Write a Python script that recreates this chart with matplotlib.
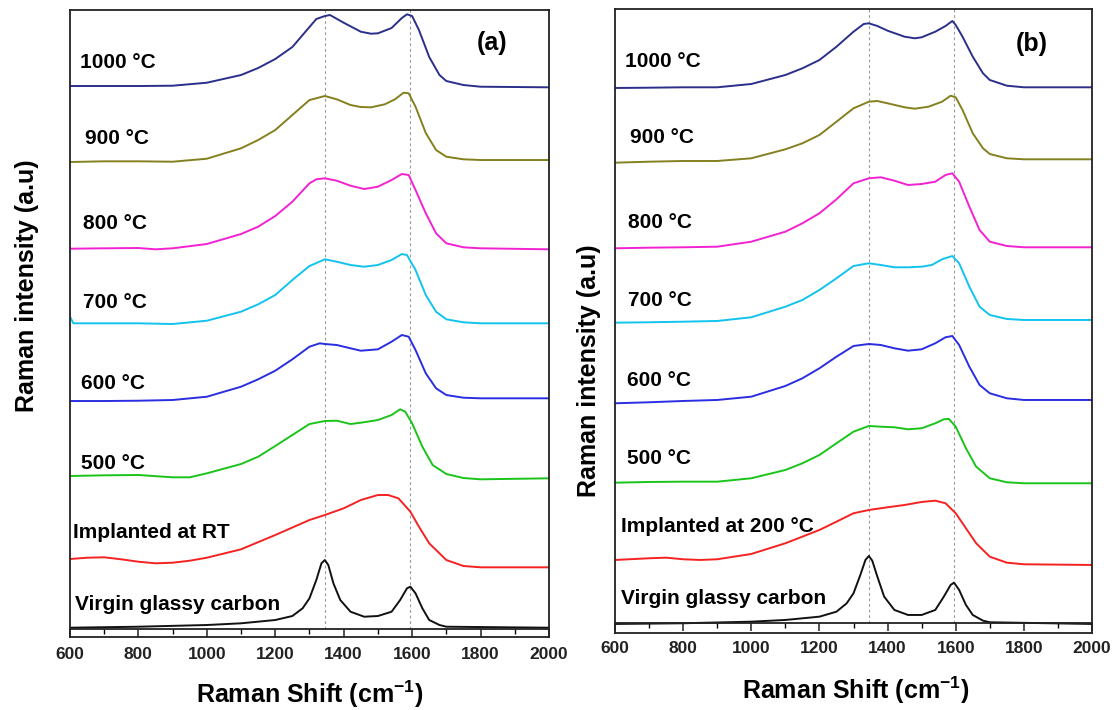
import matplotlib
matplotlib.use("Agg")
import matplotlib.pyplot as plt
from matplotlib.ticker import MultipleLocator

plt.rcParams['font.family'] = ['Liberation Sans', 'DejaVu Sans']
plt.rcParams['font.weight'] = 'bold'
plt.rcParams['mathtext.fontset'] = 'custom'
plt.rcParams['mathtext.rm'] = 'Liberation Sans:bold'
plt.rcParams['mathtext.bf'] = 'Liberation Sans:bold'

# espectros já empilhados (offset incluído), intensidade em u.a.
# ---------------- painel (a): implantado a RT ----------------
a_1000_x = [600, 700, 800, 900, 1000, 1100, 1150, 1200, 1250, 1300, 1320, 1345, 1360, 1400,
            1450, 1480, 1500, 1540, 1570, 1585, 1600, 1620, 1650, 1680, 1700, 1750, 1800, 2000]
a_1000_y = [551, 551, 551, 551.3, 554.3, 562, 569, 578, 590, 610, 618, 621, 622, 614.3,
            605.3, 603.3, 603.7, 609, 619, 622.7, 621, 607, 580, 562, 556, 552, 550.3, 549.7]

a_900_x = [600, 700, 800, 900, 1000, 1100, 1150, 1200, 1250, 1300, 1345, 1380, 1420, 1450,
           1480, 1520, 1550, 1575, 1590, 1610, 1640, 1670, 1700, 1750, 1800, 2000]
a_900_y = [475, 475.7, 475.7, 475.3, 478.3, 488.7, 497, 507, 522, 537, 541, 537.7, 532, 530,
           529.7, 532.7, 537.7, 544.3, 543.7, 530.3, 504, 487, 480.3, 477.7, 477, 477]

a_800_x = [600, 700, 800, 850, 900, 1000, 1100, 1150, 1200, 1250, 1300, 1320, 1345, 1380,
           1420, 1460, 1500, 1540, 1570, 1590, 1610, 1640, 1670, 1700, 1750, 1800, 2000]
a_800_y = [388.3, 388.7, 389, 387.7, 388.7, 393, 403, 410.3, 421, 435.3, 453.7, 457.7, 458.7, 456.3,
           451.3, 448, 450.3, 457, 463, 462, 447, 423.7, 403.7, 393.7, 389.7, 388.7, 387.7]

a_700_x = [600, 610, 700, 800, 900, 1000, 1100, 1150, 1200, 1250, 1300, 1345, 1380, 1420,
           1460, 1500, 1540, 1570, 1585, 1610, 1640, 1670, 1700, 1750, 1800, 2000]
a_700_y = [320.3, 313.7, 313.7, 313.7, 313, 316.3, 325.3, 332.7, 342, 357, 371, 377.7, 375.3, 372,
           370.3, 372, 377, 383, 382, 367, 342, 325.3, 317.7, 314.7, 313.7, 313.7]

a_600_x = [600, 700, 800, 900, 1000, 1100, 1150, 1200, 1250, 1300, 1330, 1345, 1380, 1420,
           1450, 1500, 1540, 1570, 1590, 1610, 1640, 1670, 1700, 1750, 1800, 2000]
a_600_y = [236, 236, 236.3, 237, 240.3, 250.3, 257.7, 266.3, 277.7, 290.3, 293.7, 293, 292, 288.7,
           286.3, 287.7, 295.3, 302, 300.3, 287, 263.7, 248.7, 242, 239.3, 238.7, 238.7]

a_500_x = [600, 700, 800, 900, 950, 1000, 1100, 1150, 1200, 1250, 1300, 1345, 1380, 1420,
           1450, 1500, 1540, 1565, 1580, 1600, 1630, 1660, 1700, 1750, 1800, 2000]
a_500_y = [161, 161.7, 162, 159.7, 159.7, 163.7, 173, 180.3, 191, 202, 213, 216, 216.3, 213,
           214.3, 217, 222, 227.7, 225.3, 213.7, 190.3, 172, 163, 159, 157.7, 158.7]

a_impl_x = [600, 650, 700, 750, 800, 850, 900, 950, 1000, 1100, 1200, 1300, 1345, 1400,
            1450, 1500, 1530, 1560, 1595, 1620, 1650, 1700, 1750, 1800, 2000]
a_impl_y = [78, 79.3, 79.7, 77.7, 75.3, 73.7, 74.3, 76.3, 79.3, 87.7, 102, 117, 122, 128.7,
            137, 142, 142, 138.7, 125.3, 110.3, 93.7, 77, 71, 69.7, 69.7]

a_virg_x = [600, 800, 1000, 1100, 1200, 1250, 1280, 1300, 1320, 1335, 1345, 1355, 1370, 1390,
            1420, 1460, 1500, 1540, 1565, 1585, 1595, 1610, 1630, 1650, 1680, 1700, 2000]
a_virg_y = [9.3, 10.3, 12, 13.7, 17, 21, 28.7, 38.7, 57, 73.7, 77, 72, 53.7, 37,
            25.3, 20.3, 21, 25.3, 37, 48.7, 50.3, 43.7, 28.7, 17, 12, 10.3, 9.3]

# ---------------- painel (b): implantado a 200 °C ----------------
b_1000_x = [600, 700, 800, 900, 1000, 1100, 1150, 1200, 1250, 1300, 1330, 1345, 1370, 1400,
            1450, 1480, 1500, 1540, 1570, 1590, 1600, 1620, 1650, 1680, 1700, 1750, 1800, 2000]
b_1000_y = [545, 545.3, 545.7, 545.7, 549, 558, 564.7, 573, 586.3, 601.3, 609, 609.7, 607, 602.3,
            596.3, 594.7, 595.7, 601.3, 607, 612, 608, 596.3, 576.3, 559.7, 553, 547.3, 545.7, 545.7]

b_900_x = [600, 700, 800, 900, 1000, 1100, 1150, 1200, 1250, 1300, 1345, 1370, 1400, 1450,
           1480, 1520, 1560, 1585, 1600, 1620, 1650, 1680, 1700, 1750, 1800, 2000]
b_900_y = [470.3, 471.3, 472, 472, 474.7, 483.7, 489.7, 498, 511.3, 524.7, 531.3, 532, 529.7, 525.7,
           524.3, 526.3, 531.3, 537.3, 535.7, 523, 499.7, 484.7, 479, 474.7, 473.7, 473.7]

b_800_x = [600, 700, 800, 900, 1000, 1100, 1150, 1200, 1250, 1300, 1345, 1380, 1420, 1460,
           1500, 1540, 1570, 1590, 1610, 1640, 1670, 1700, 1750, 1800, 2000]
b_800_y = [384.7, 385.3, 385.7, 386.3, 391.3, 401.3, 409.7, 419.7, 433.7, 449.7, 454.7, 455.7, 452.3, 448,
           449, 451.3, 458, 459.7, 451.3, 426.3, 403, 391.3, 387, 385.7, 385.7]

b_700_x = [600, 700, 800, 900, 1000, 1100, 1150, 1200, 1250, 1300, 1345, 1380, 1420, 1460,
           1500, 1530, 1560, 1590, 1610, 1640, 1670, 1700, 1750, 1800, 2000]
b_700_y = [310.3, 310.7, 311.3, 312, 315.7, 326.3, 333, 343, 354.7, 367, 369.7, 368, 365.7, 365.7,
           366.3, 368, 373.7, 377, 369.7, 346.3, 326.3, 318, 314, 313, 313]

b_600_x = [600, 700, 800, 900, 1000, 1100, 1150, 1200, 1250, 1300, 1345, 1380, 1420, 1460,
           1500, 1540, 1570, 1590, 1610, 1640, 1670, 1700, 1750, 1800, 2000]
b_600_y = [229.7, 230.7, 232, 233, 236.3, 247, 254.7, 264.7, 276.3, 287, 289, 288, 284.7, 282.3,
           283.7, 289.7, 295.7, 297, 288, 266.3, 248, 239.7, 234.7, 233, 233]

b_500_x = [600, 700, 800, 900, 1000, 1100, 1150, 1200, 1250, 1300, 1345, 1380, 1420, 1460,
           1500, 1540, 1565, 1580, 1600, 1630, 1660, 1700, 1750, 1800, 2000]
b_500_y = [150.3, 151, 151.3, 151.3, 154.7, 163, 169.7, 178, 189.7, 201.3, 207, 206.3, 205.7, 203.7,
           204.7, 209.7, 213.7, 214, 206.3, 184.7, 166.3, 154.7, 150.7, 149.7, 149.7]

b_impl_x = [600, 700, 750, 800, 850, 900, 1000, 1100, 1200, 1250, 1300, 1345, 1400, 1450,
            1500, 1540, 1570, 1600, 1630, 1660, 1700, 1750, 1800, 2000]
b_impl_y = [73, 74.7, 75.3, 73.7, 73, 73.7, 79, 89.7, 103, 111.3, 119.7, 123, 125.7, 128,
            131, 132.3, 129.7, 119.7, 104.7, 89.7, 76.3, 70.3, 68.7, 68]

b_virg_x = [600, 800, 1000, 1100, 1200, 1250, 1280, 1300, 1320, 1335, 1345, 1355, 1370, 1390,
            1420, 1460, 1500, 1540, 1565, 1585, 1595, 1610, 1630, 1650, 1680, 1700, 2000]
b_virg_y = [9, 9.7, 11.3, 13, 16.3, 21.3, 29.7, 39.7, 58, 73, 77, 72.3, 56.3, 36.3,
            23, 18, 18, 23, 36.3, 48, 50.3, 43, 28, 18, 12.3, 10.7, 9]

# bandas D e G (linhas pontilhadas)
band_positions = [1345, 1595]

labels_a = ["1000 °C", "900 °C", "800 °C", "700 °C", "600 °C", "500 °C",
            "Implanted at RT", "Virgin glassy carbon"]
labels_b = ["1000 °C", "900 °C", "800 °C", "700 °C", "600 °C", "500 °C",
            "Implanted at 200 °C", "Virgin glassy carbon"]
colors = ["#2b2f8a", "#85801f", "#f222d2", "#12c3ee", "#2a2ee0", "#1ac41a", "#f52222", "#111111"]

curves_a = [(a_1000_x, a_1000_y), (a_900_x, a_900_y), (a_800_x, a_800_y), (a_700_x, a_700_y),
            (a_600_x, a_600_y), (a_500_x, a_500_y), (a_impl_x, a_impl_y), (a_virg_x, a_virg_y)]
curves_b = [(b_1000_x, b_1000_y), (b_900_x, b_900_y), (b_800_x, b_800_y), (b_700_x, b_700_y),
            (b_600_x, b_600_y), (b_500_x, b_500_y), (b_impl_x, b_impl_y), (b_virg_x, b_virg_y)]

# posição dos rótulos (x em cm-1, y em u.a.)
label_pos_a = [(629, 575), (644, 499), (638, 414), (638, 335), (632, 254), (632, 174), (609, 105), (615, 33)]
label_pos_b = [(629, 571), (644, 495), (638, 410), (638, 332), (635, 252), (635, 174), (618, 106), (618, 34)]


def draw_panel(ax, curves, labels, label_pos, ytop, spine_frac, tag, tag_pos,
               ylab_xy, xlab_xy):
    for (x, y), c in zip(curves, colors):
        ax.plot(x, y, color=c, lw=1.4, solid_joinstyle="round")
    for xp in band_positions:
        ax.axvline(xp, ymin=spine_frac, ymax=1, color="#999999", lw=0.8,
                   linestyle=(0, (2.5, 2.5)), zorder=0)
    for lab, (tx, ty) in zip(labels, label_pos):
        ax.text(tx, ty, lab, fontsize=15, fontweight="bold", va="center", ha="left")
    ax.text(tag_pos[0], tag_pos[1], tag, fontsize=18, fontweight="bold", va="center", ha="center")

    ax.set_xlim(600, 2000)
    ax.set_ylim(0, ytop)
    ax.xaxis.set_major_locator(MultipleLocator(200))
    ax.xaxis.set_minor_locator(MultipleLocator(100))
    ax.set_yticks([])

    # eixo x do Origin: linha um pouco acima da moldura, ticks pendurados até ela
    ax.spines["bottom"].set_position(("axes", spine_frac))
    for s in ax.spines.values():
        s.set_linewidth(1.3)
        s.set_color("#222222")
    ax.plot([0, 1], [0, 0], transform=ax.transAxes, color="#222222", lw=1.3, clip_on=False)
    ax.tick_params(axis="x", which="major", direction="out", length=6, width=1.1,
                   pad=7, labelsize=12.5, colors="#222222")
    ax.tick_params(axis="x", which="minor", direction="out", length=3.5, width=1.0)
    for t in ax.get_xticklabels():
        t.set_fontweight("bold")

    ax.set_xlabel(r"Raman Shift (cm$^{\mathbf{-1}}$)", fontsize=18, fontweight="bold")
    ax.set_ylabel("Raman intensity (a.u)", fontsize=18, fontweight="bold")
    ax.xaxis.set_label_coords(*xlab_xy)
    ax.yaxis.set_label_coords(*ylab_xy)


fig = plt.figure(figsize=(11.16, 7.10), dpi=100)
ax_a = fig.add_axes([0.0627, 0.1028, 0.4292, 0.8838])
ax_b = fig.add_axes([0.5511, 0.1085, 0.4274, 0.8784])

draw_panel(ax_a, curves_a, labels_a, label_pos_a, 627.5, 8 / 627.5, "(a)", (1834, 594),
           (-0.064, 0.56), (0.501, -0.066))
draw_panel(ax_b, curves_b, labels_b, label_pos_b, 623.7, 9.7 / 623.7, "(b)", (1824, 589),
           (-0.029, 0.42), (0.505, -0.066))

fig.savefig("out.png", dpi=100)
